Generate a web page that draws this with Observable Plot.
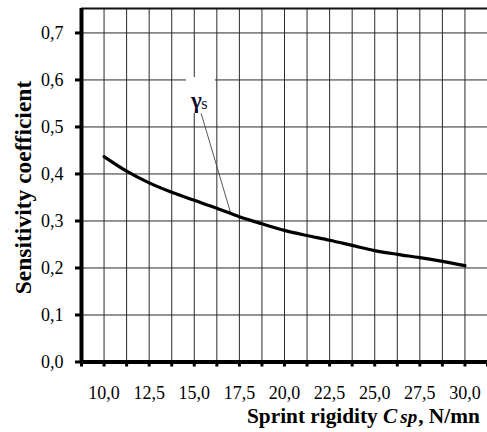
<!DOCTYPE html>
<html><head><meta charset="utf-8">
<script src="https://cdn.jsdelivr.net/npm/d3@7"></script>
<script src="https://cdn.jsdelivr.net/npm/@observablehq/plot@0.6"></script>
<style>
body{margin:0;background:#fff;}
#chart svg{display:block;}
</style>
</head><body><div id="chart"></div>
<script>
// ---- data ----
const rigidity = [10, 11.25, 12.5, 13.75, 15, 16.25, 17.5, 18.75, 20, 21.25, 22.5, 23.75, 25, 26.25, 27.5, 28.75, 30];
const sensitivity = [0.437, 0.406, 0.381, 0.361, 0.344, 0.327, 0.309, 0.294, 0.280, 0.269, 0.259, 0.248, 0.237, 0.229, 0.222, 0.214, 0.205];
const xLabelTicks = [10, 12.5, 15, 17.5, 20, 22.5, 25, 27.5, 30];
const xGridTicks = [8.75, 10, 11.25, 12.5, 13.75, 15, 16.25, 17.5, 18.75, 20, 21.25, 22.5, 23.75, 25, 26.25, 27.5, 28.75, 30, 31.25];
const yTicks = [0, 0.1, 0.2, 0.3, 0.4, 0.5, 0.6, 0.7];
const xDomain = [8.75, 31.25];
const yDomain = [0, 0.752];
const seriesSymbol = "γ";
const seriesSub = "s";
const labelBox = [{x1: 14.57, x2: 16.17, y1: 0.529, y2: 0.605}];
const leader = [{x1: 15.38, y1: 0.529, x2: 17.0, y2: 0.319}];
const symbolPos = [{x: 14.82, y: 0.557}];
const subPos = [{x: 15.38, y: 0.550}];
const yTitle = "Sensitivity coefficient";
const xTitleParts = ["Sprint rigidity ", "C", "sp", ", N/mn"];

const data = rigidity.map((x, i) => ({x, y: sensitivity[i]}));
const fmt = d => d3.format(".1f")(d).replace(".", ",");
const serif = "Liberation Serif, Times New Roman, serif";

const chart = Plot.plot({
  width: 487,
  height: 432,
  marginLeft: 81,
  marginRight: 0,
  marginTop: 8,
  marginBottom: 70.5,
  style: {fontFamily: serif, fontSize: "18px", color: "#000", background: "#fff"},
  x: {domain: xDomain},
  y: {domain: yDomain},
  marks: [
    Plot.ruleX(xGridTicks, {stroke: "#2a2a2a", strokeWidth: 1}),
    Plot.ruleY(yTicks, {stroke: "#2a2a2a", strokeWidth: 1}),
    Plot.ruleY([yDomain[1]], {stroke: "#111", strokeWidth: 2}),
    Plot.rect(labelBox, {x1: "x1", x2: "x2", y1: "y1", y2: "y2", fill: "#fff"}),
    Plot.link(leader, {x1: "x1", y1: "y1", x2: "x2", y2: "y2", stroke: "#444", strokeWidth: 0.9}),
    Plot.line(data, {x: "x", y: "y", stroke: "#000", strokeWidth: 3.2, curve: "monotone-x"}),
    Plot.text(symbolPos, {x: "x", y: "y", text: () => seriesSymbol, textAnchor: "start", fontSize: 23, fontWeight: "bold", fill: "#0b0b2a"}),
    Plot.text(subPos, {x: "x", y: "y", text: () => seriesSub, textAnchor: "start", fontSize: 16, fill: "#0b0b2a"}),
    Plot.ruleX([xDomain[0]], {stroke: "#000", strokeWidth: 4}),
    Plot.ruleY([0], {stroke: "#000", strokeWidth: 4}),
    Plot.axisX(xGridTicks, {tickSize: 5, strokeWidth: 3, text: null, label: null}),
    Plot.axisX(xLabelTicks, {tickSize: 0, tickPadding: 24, tickFormat: fmt, label: null, fontSize: 18}),
    Plot.axisY(yTicks, {tickSize: 6, strokeWidth: 3, tickPadding: 12, tickFormat: fmt, label: null, fontSize: 18})
  ]
});

const svg = d3.select(chart);
svg.append("text")
  .attr("transform", "translate(31,187.5) rotate(-90)")
  .attr("text-anchor", "middle")
  .attr("font-family", serif)
  .attr("font-size", 23.5)
  .attr("font-weight", "bold")
  .attr("fill", "#000")
  .text(yTitle);

const xt = svg.append("text")
  .attr("x", 247).attr("y", 423)
  .attr("text-anchor", "start")
  .attr("font-family", serif)
  .attr("font-size", 21.3)
  .attr("font-weight", "bold")
  .attr("fill", "#000");
xt.append("tspan").text(xTitleParts[0]);
xt.append("tspan").attr("font-style", "italic").text(xTitleParts[1]);
xt.append("tspan").attr("font-style", "italic").attr("font-size", 19).attr("dx", 3).text(xTitleParts[2]);
xt.append("tspan").attr("dx", 1).text(xTitleParts[3]);

document.getElementById("chart").appendChild(chart);
</script>
</body></html>
